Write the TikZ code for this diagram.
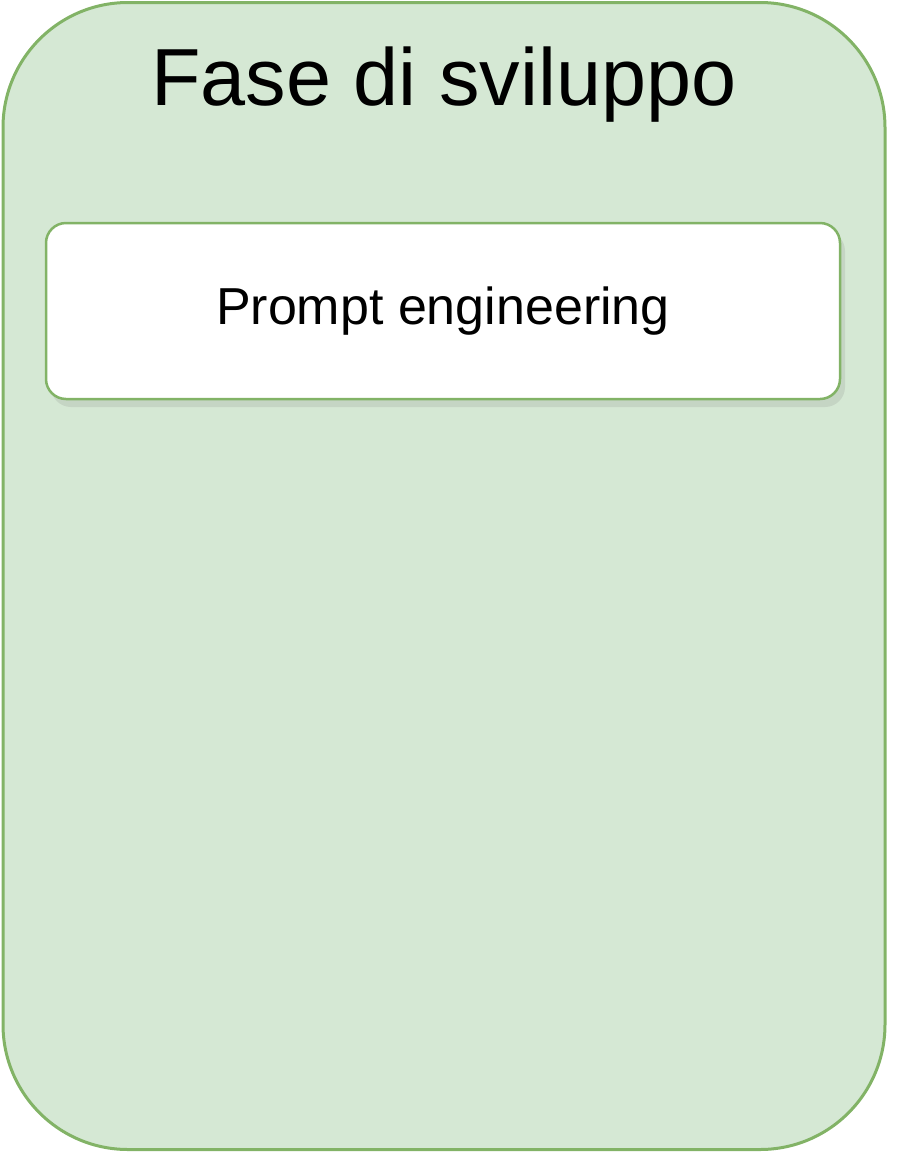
\documentclass[tikz,border=0pt]{standalone}
\usepackage{fontspec}
\setmainfont{Liberation Sans}
\usetikzlibrary{shadows}
\definecolor{fasefill}{HTML}{D5E8D4}
\definecolor{faseline}{HTML}{82B366}
\begin{document}
\begin{tikzpicture}[x=1pt, y=-1pt,
		fase/.style = {draw=faseline, fill=fasefill, line width=3pt, rounded corners=125pt},
		titolo/.style = {anchor=base, font=\fontsize{81}{97}\selectfont},
		stepbox/.style = {draw=faseline, fill=white, line width=2.5pt, rounded corners=20pt,
			drop shadow={shadow xshift=5pt, shadow yshift=-8pt, opacity=0.18},
			minimum width=794pt, minimum height=176pt, font=\fontsize{52}{62}\selectfont}]
		\useasboundingbox (0,0) rectangle (922,1152);
		\node[fase, minimum width=882pt, minimum height=1147pt] (fase) at (444,576) {};
		\node[titolo] (titolo) at (444,105) {Fase di sviluppo};
		\node[stepbox] (prompt) at (443,311) {Prompt engineering};
	\end{tikzpicture}
\end{document}
